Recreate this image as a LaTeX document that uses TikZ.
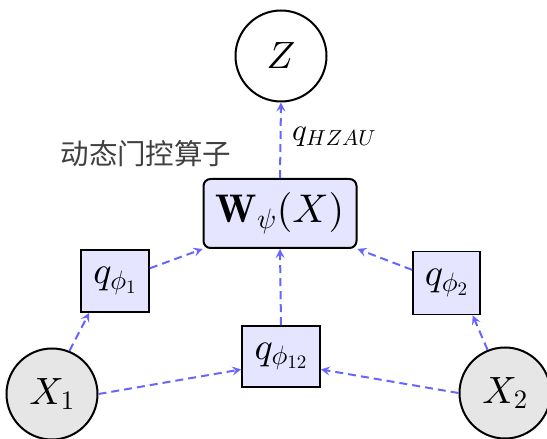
\documentclass[tikz,border=0pt]{standalone}
\usepackage{fontspec}
\DeclareFontShape{OML}{cmm}{m}{it}{<->cmmi10}{}
\DeclareFontShape{OML}{cmm}{b}{it}{<->cmmib10}{}
\DeclareFontShape{OMS}{cmsy}{m}{n}{<->cmsy10}{}
\DeclareFontShape{OT1}{cmr}{m}{n}{<->cmr10}{}
\DeclareFontShape{OT1}{cmr}{bx}{n}{<->cmbx10}{}
\newfontfamily\cjk{Noto Sans CJK SC}
\usetikzlibrary{arrows.meta}
\definecolor{arrowblue}{RGB}{102,102,255}
\definecolor{boxfill}{RGB}{229,229,255}
\definecolor{circfill}{RGB}{230,230,230}
\begin{document}
\begin{tikzpicture}[x=1pt,y=1pt,
  varnode/.style={circle,draw=black,line width=2pt,minimum size=91pt,inner sep=0pt,font=\fontsize{38}{44}\selectfont},
  obsnode/.style={varnode,fill=circfill},
  qbox/.style={rectangle,draw=black,line width=1.7pt,fill=boxfill,inner sep=0pt,font=\fontsize{38}{44}\selectfont},
  wbox/.style={rectangle,rounded corners=7pt,draw=black,line width=2pt,fill=boxfill,inner sep=0pt,minimum width=153pt,minimum height=69pt,font=\fontsize{40}{46}\selectfont},
  flow/.style={draw=arrowblue,line width=2pt,dash pattern=on 8pt off 5pt,-{Stealth[length=9pt,width=9pt,inset=3.5pt]}}
]
\useasboundingbox (0,0) rectangle (547,439);
\node[varnode] (Z) at (281,383) {$Z$};
\node[wbox] (W) at (280,225.5) {$\mathbf{W}_\psi(X)$};
\node[qbox,minimum width=68pt,minimum height=62pt] (q1) at (115,158) {$q_{\phi_1}$};
\node[qbox,minimum width=67pt,minimum height=63pt] (q2) at (446.5,156) {$q_{\phi_2}$};
\node[qbox,minimum width=78pt,minimum height=61pt] (q12) at (281,82.5) {$q_{\phi_{12}}$};
\node[obsnode] (X1) at (52,45) {$X_1$};
\node[obsnode] (X2) at (505,46) {$X_2$};
\node[font=\cjk\fontsize{28.5}{32}\selectfont,text=black!75] (cap) at (146,285) {动态门控算子};
\node[anchor=base west,inner sep=0pt,font=\fontsize{31}{36}\selectfont] (lab) at (292,298) {$q_{HZAU}$};
\draw[flow] (W.north) -- (Z.south);
\draw[flow] (q1) -- (W.south west);
\draw[flow] (q2) -- (W.south east);
\draw[flow] (q12.north) -- (W.south);
\draw[flow] (X1.68) -- (q1.231);
\draw[flow] (X2.112) -- (q2.309);
\draw[flow] (X1.east) -- (q12.198);
\draw[flow] (X2.west) -- (q12.-18);
\end{tikzpicture}
\end{document}
